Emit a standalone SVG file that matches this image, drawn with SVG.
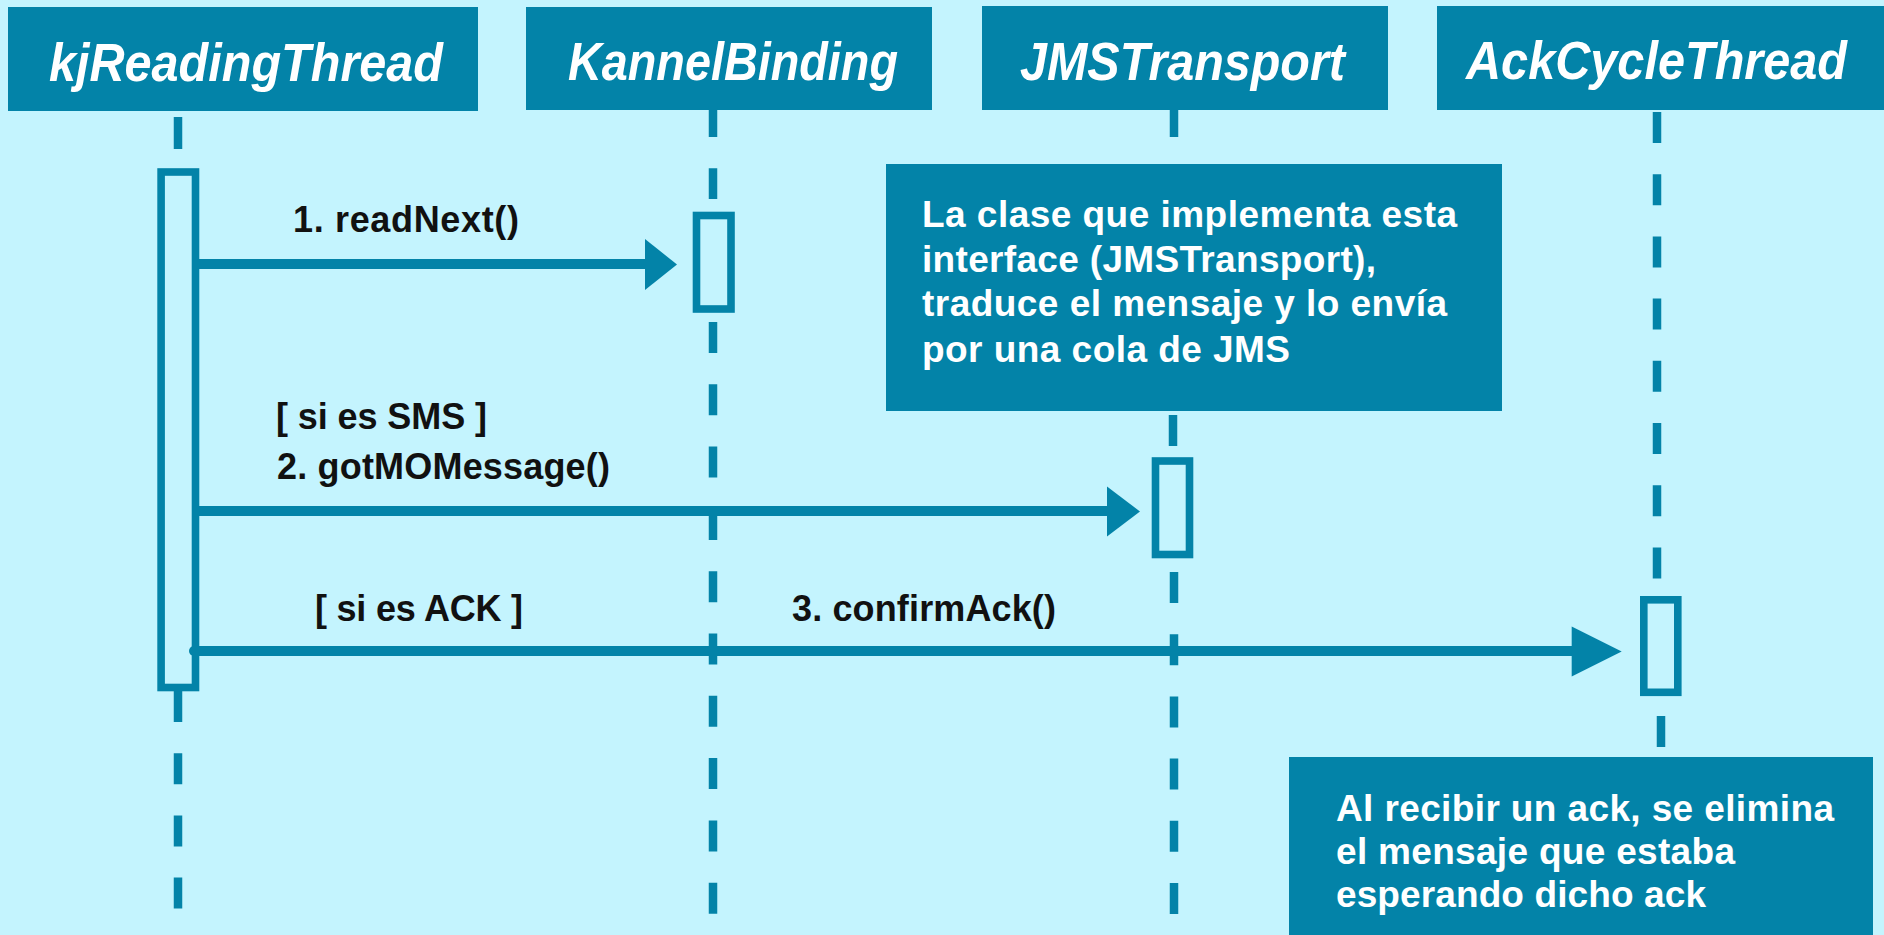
<svg xmlns="http://www.w3.org/2000/svg" width="1884" height="935" viewBox="0 0 1884 935">
  <style>
    .bg { fill: #C4F4FE; }
    .hdr { fill: #0383A8; }
    .hdrtxt { font-family: "Liberation Sans", Arial, sans-serif; font-weight: bold; font-style: italic; font-size: 54px; fill: #FFFFFF; }
    .life { stroke: #0383A8; stroke-width: 8.5; fill: none; }
    .dash { stroke-dasharray: 31 31.2; }
    .act { fill: #C4F4FE; stroke: #0383A8; stroke-width: 7.6; }
    .msg { stroke: #0383A8; stroke-width: 10; fill: none; }
    .head { fill: #0383A8; }
    .lbl { font-family: "Liberation Sans", Arial, sans-serif; font-weight: bold; font-size: 36px; fill: #111111; }
    .note { fill: #0383A8; }
    .notetxt { font-family: "Liberation Sans", Arial, sans-serif; font-weight: bold; font-size: 37px; fill: #FFFFFF; }
  </style>
  <rect class="bg" x="0" y="0" width="1884" height="935"/>

  <g id="kjReadingThread">
    <rect class="hdr" x="8" y="7" width="470" height="104"/>
    <text class="hdrtxt" transform="translate(49,81) scale(0.88,1)" x="0" y="0" textLength="447.7" lengthAdjust="spacingAndGlyphs">kjReadingThread</text>
    <line class="life" x1="178" y1="117" x2="178" y2="149"/>
    <line class="life dash" x1="178" y1="691" x2="178" y2="910"/>
    <rect class="act" x="161.1" y="172" width="34.4" height="515.5"/>
  </g>

  <g id="KannelBinding">
    <rect class="hdr" x="526" y="7" width="406" height="103"/>
    <text class="hdrtxt" transform="translate(568,80) scale(0.88,1)" x="0" y="0" textLength="375" lengthAdjust="spacingAndGlyphs">KannelBinding</text>
    <line class="life dash" x1="713" y1="106" x2="713" y2="199"/>
    <line class="life" x1="713" y1="322" x2="713" y2="914" style="stroke-dasharray: 31 31.3"/>
    <rect class="act" x="696.5" y="215.5" width="34.5" height="93.5"/>
  </g>

  <g id="JMSTransport">
    <rect class="hdr" x="982" y="6" width="406" height="104"/>
    <text class="hdrtxt" transform="translate(1020,80) scale(0.88,1)" x="0" y="0" textLength="369.3" lengthAdjust="spacingAndGlyphs">JMSTransport</text>
    <line class="life" x1="1174" y1="110" x2="1174" y2="137"/>
    <line class="life" x1="1173" y1="415" x2="1173" y2="446"/>
    <line class="life dash" x1="1174" y1="572" x2="1174" y2="915"/>
    <rect class="act" x="1155.5" y="461" width="34" height="93.5"/>
  </g>

  <g id="AckCycleThread">
    <rect class="hdr" x="1437" y="6" width="447" height="104"/>
    <text class="hdrtxt" transform="translate(1466,79) scale(0.88,1)" x="0" y="0" textLength="433" lengthAdjust="spacingAndGlyphs">AckCycleThread</text>
    <line class="life dash" x1="1657" y1="112" x2="1657" y2="580"/>
    <line class="life" x1="1661" y1="716" x2="1661" y2="747"/>
    <rect class="act" x="1643.8" y="599.8" width="34" height="92.5"/>
  </g>

  <g id="note-jms">
    <rect class="note" x="886" y="164" width="616" height="247"/>
    <text class="notetxt" x="922" y="227" textLength="535">La clase que implementa esta</text>
    <text class="notetxt" x="922" y="271.5" textLength="454">interface (JMSTransport),</text>
    <text class="notetxt" x="922" y="316" textLength="525">traduce el mensaje y lo envía</text>
    <text class="notetxt" x="922" y="361.5" textLength="368">por una cola de JMS</text>
  </g>

  <g id="note-ack">
    <rect class="note" x="1289" y="757" width="584" height="190"/>
    <text class="notetxt" x="1336" y="821" textLength="498">Al recibir un ack, se elimina</text>
    <text class="notetxt" x="1336" y="864" textLength="399">el mensaje que estaba</text>
    <text class="notetxt" x="1336" y="907.3" textLength="370">esperando dicho ack</text>
  </g>

  <g id="connectors">
    <line class="msg" x1="199" y1="264" x2="648" y2="264"/>
    <polygon class="head" points="645,239 677,264.5 645,290"/>
    <text class="lbl" x="293" y="231.7" textLength="226">1. readNext()</text>

    <line class="msg" x1="199" y1="511" x2="1110" y2="511"/>
    <polygon class="head" points="1107,486.5 1140,511.5 1107,536.5"/>
    <text class="lbl" x="276" y="429" textLength="211">[ si es SMS ]</text>
    <text class="lbl" x="277" y="479" textLength="333">2. gotMOMessage()</text>

    <line class="msg" x1="194" y1="651" x2="1574" y2="651" stroke-linecap="round"/>
    <polygon class="head" points="1571.7,626.5 1621.7,651.5 1571.7,676.5"/>
    <text class="lbl" x="315" y="620.7" textLength="208">[ si es ACK ]</text>
    <text class="lbl" x="792" y="620.7" textLength="264">3. confirmAck()</text>
  </g>
</svg>
